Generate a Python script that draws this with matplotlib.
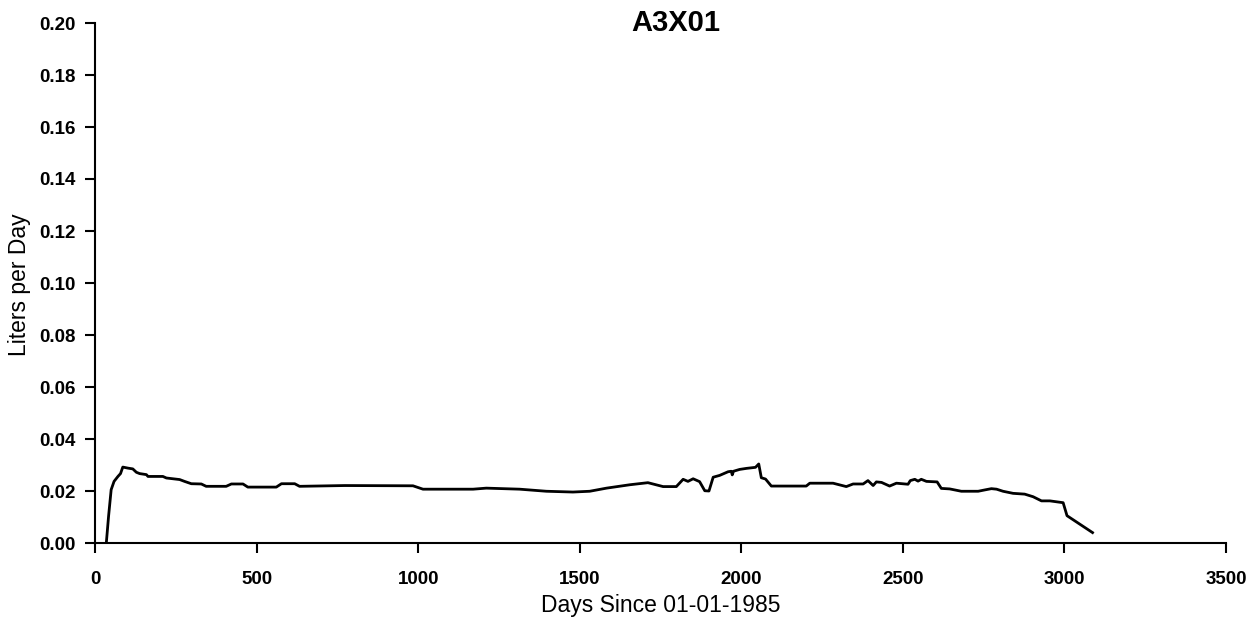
import matplotlib
matplotlib.use("Agg")
import matplotlib.pyplot as plt

# Cumulative average flow for well A3X01
days = [35, 42, 50, 59, 71, 79, 86, 102, 117, 128, 138, 159, 164, 210, 221,
        262, 277, 298, 329, 344, 406, 422, 458, 473, 561, 577, 618, 633, 773,
        984, 1015, 1170, 1211, 1314, 1397, 1479, 1531, 1583, 1655, 1711, 1758,
        1799, 1820, 1835, 1851, 1871, 1887, 1900, 1913, 1933, 1959, 1969, 1972,
        1976, 1995, 2016, 2044, 2054, 2062, 2075, 2093, 2201, 2212, 2284, 2325,
        2346, 2377, 2392, 2408, 2418, 2434, 2459, 2480, 2516, 2523, 2537, 2547,
        2557, 2573, 2606, 2619, 2645, 2681, 2733, 2753, 2774, 2790, 2810, 2841,
        2877, 2903, 2929, 2955, 2996, 3008, 3087]
liters = [0.0, 0.0103, 0.0205, 0.0237, 0.0256, 0.0267, 0.0292, 0.0288, 0.0285,
          0.0272, 0.0267, 0.0263, 0.0256, 0.0256, 0.025, 0.0244, 0.0237, 0.0228,
          0.0227, 0.0218, 0.0218, 0.0227, 0.0227, 0.0215, 0.0215, 0.0228, 0.0228,
          0.0218, 0.0221, 0.022, 0.0207, 0.0207, 0.0211, 0.0207, 0.0199, 0.0196,
          0.0199, 0.0211, 0.0224, 0.0232, 0.0217, 0.0217, 0.0245, 0.0237, 0.0247,
          0.0236, 0.0201, 0.02, 0.0253, 0.026, 0.0274, 0.0276, 0.0262, 0.0276,
          0.0283, 0.0287, 0.0291, 0.0304, 0.0251, 0.0246, 0.0219, 0.0219, 0.023,
          0.023, 0.0217, 0.0227, 0.0227, 0.024, 0.0221, 0.0235, 0.0233, 0.0219,
          0.023, 0.0226, 0.024, 0.0245, 0.0238, 0.0245, 0.0237, 0.0235, 0.021,
          0.0208, 0.0199, 0.0199, 0.0204, 0.0209, 0.0207, 0.0199, 0.0191, 0.0188,
          0.0178, 0.0162, 0.0162, 0.0155, 0.0105, 0.004]

xticks = [0, 500, 1000, 1500, 2000, 2500, 3000, 3500]
yticks = [0.00, 0.02, 0.04, 0.06, 0.08, 0.10, 0.12, 0.14, 0.16, 0.18, 0.20]

plt.rcParams['font.family'] = ['Liberation Sans', 'DejaVu Sans']

W, H = 1255, 624
fig = plt.figure(figsize=(W / 100, H / 100), dpi=100)
ax = fig.add_axes([95 / W, 1 - 543 / H, (1226 - 95) / W, (543 - 23) / H])

ax.plot(days, liters, color='black', lw=2.0)

ax.set_xlim(0, 3500)
ax.set_ylim(0, 0.20)
ax.set_xticks(xticks)
ax.set_yticks(yticks)
ax.set_yticklabels(['%.2f' % v for v in yticks])
ax.tick_params(direction='out', length=7.5, width=1.5, labelsize=13.5)
ax.tick_params(axis='x', pad=13)
ax.tick_params(axis='y', pad=6.5)
for lab in ax.get_xticklabels() + ax.get_yticklabels():
    lab.set_fontweight('bold')

ax.spines['top'].set_visible(False)
ax.spines['right'].set_visible(False)
ax.spines['left'].set_linewidth(1.5)
ax.spines['bottom'].set_linewidth(1.5)

fig.text(661 / W, 1 - 612 / H, 'Days Since 01-01-1985', fontsize=16.5,
         ha='center', va='baseline')
fig.text(20 / W, 1 - 285 / H, 'Liters per Day', fontsize=16.5, rotation=90,
         ha='center', va='center')
fig.text(676 / W, 1 - 31 / H, 'A3X01', fontsize=21, fontweight='bold',
         ha='center', va='baseline')

fig.savefig('out.png', dpi=100)
